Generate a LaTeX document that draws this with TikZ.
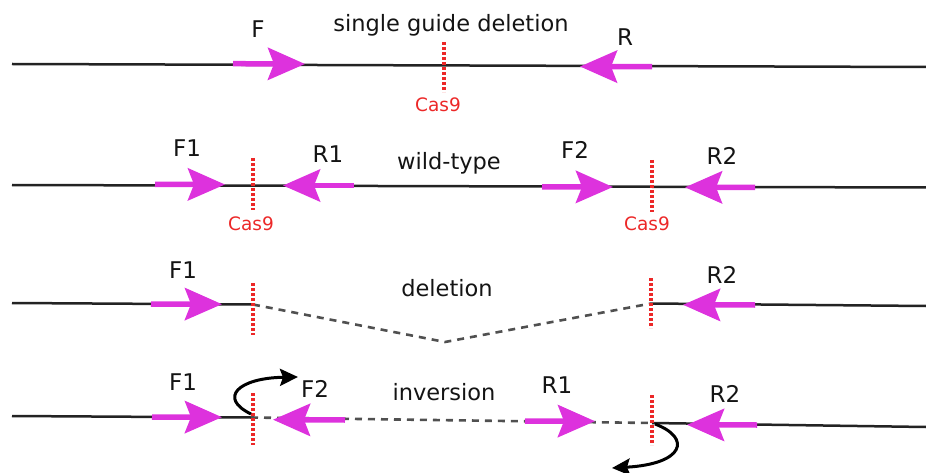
\documentclass[tikz,border=0pt]{standalone}
\usepackage{fontspec}
\setmainfont{DejaVu Sans}
\usetikzlibrary{arrows.meta}
\definecolor{primer}{RGB}{221,50,221}
\definecolor{cutred}{RGB}{236,40,40}
\definecolor{dna}{RGB}{35,35,35}
\definecolor{gapgray}{RGB}{80,80,80}
\tikzset{
  strand/.style={draw=dna, line width=2.5pt},
  gapline/.style={draw=gapgray, line width=2.6pt, dash pattern=on 7pt off 6pt},
  primerarrow/.style={draw=primer, line width=5.5pt,
    -{Stealth[length=37pt, width=32pt, inset=6pt, fill=primer]}},
  cutsite/.style={draw=cutred, line width=3.2pt, dash pattern=on 3pt off 2pt},
  flip/.style={draw=black, line width=3pt, -{Stealth[length=18pt, width=17pt, inset=3pt]}},
  lbl/.style={font=\fontsize{23}{26}\selectfont, text=black!92, anchor=base, inner sep=0pt},
  caption/.style={font=\fontsize{22.5}{26}\selectfont, text=black!92, anchor=base, inner sep=0pt},
  caslbl/.style={font=\fontsize{18.5}{21}\selectfont, text=cutred, anchor=base, inner sep=0pt}
}
\begin{document}
\begin{tikzpicture}[x=1pt,y=-1pt]
\useasboundingbox (0,0) rectangle (926,473);

% ---------- single guide deletion ----------
\coordinate (s1L) at (12,64);
\coordinate (s1R) at (926,67);
\draw[strand] (s1L) -- (s1R);
\coordinate (fS) at (233,63.7);  \coordinate (fT) at (305,64);
\coordinate (rS) at (652,66.7);  \coordinate (rT) at (580,66.5);
\draw[primerarrow] (fS) -- (fT);
\draw[primerarrow] (rS) -- (rT);
\coordinate (c0a) at (444,42); \coordinate (c0b) at (444,92);
\draw[cutsite] (c0a) -- (c0b);
\node[lbl] (lF) at (258,38) {F};
\node[lbl] (lR) at (625,46) {R};
\node[caption] (t1) at (451,32) {single guide deletion};
\node[caslbl] (cas0) at (438,112) {Cas9};

% ---------- wild-type ----------
\coordinate (s2L) at (12,185);
\coordinate (s2R) at (926,187.5);
\draw[strand] (s2L) -- (s2R);
\coordinate (f1S) at (155,184.3); \coordinate (f1T) at (225,184.5);
\coordinate (r1S) at (354,185.5); \coordinate (r1T) at (283,185.5);
\coordinate (f2S) at (542,186.8); \coordinate (f2T) at (613,187);
\coordinate (r2S) at (755,187.4); \coordinate (r2T) at (685,187.3);
\draw[primerarrow] (f1S) -- (f1T);
\draw[primerarrow] (r1S) -- (r1T);
\draw[primerarrow] (f2S) -- (f2T);
\draw[primerarrow] (r2S) -- (r2T);
\coordinate (c1a) at (253,158); \coordinate (c1b) at (253,210);
\coordinate (c2a) at (652,160); \coordinate (c2b) at (652,212);
\draw[cutsite] (c1a) -- (c1b);
\draw[cutsite] (c2a) -- (c2b);
\node[lbl] (wF1) at (187,157) {F1};
\node[lbl] (wR1) at (328,163) {R1};
\node[lbl] (wF2) at (575,159) {F2};
\node[lbl] (wR2) at (722,165) {R2};
\node[caption] (t2) at (449,170) {wild-type};
\node[caslbl] (cas1) at (251,230) {Cas9};
\node[caslbl] (cas2) at (647,230) {Cas9};

% ---------- deletion ----------
\coordinate (s3L) at (12,303);
\coordinate (j3a) at (253,304.5);
\coordinate (v3) at (445,342);
\coordinate (j3b) at (651,303.5);
\coordinate (s3R) at (926,306);
\draw[strand] (s3L) -- (j3a);
\draw[gapline] (j3a) -- (v3) -- (j3b);
\draw[strand] (j3b) -- (s3R);
\coordinate (d1S) at (151,304); \coordinate (d1T) at (222,304.2);
\coordinate (d2S) at (755,305); \coordinate (d2T) at (683,304.8);
\draw[primerarrow] (d1S) -- (d1T);
\draw[primerarrow] (d2S) -- (d2T);
\coordinate (c3a) at (253,283); \coordinate (c3b) at (253,335);
\coordinate (c4a) at (651,278); \coordinate (c4b) at (651,328);
\draw[cutsite] (c3a) -- (c3b);
\draw[cutsite] (c4a) -- (c4b);
\node[lbl] (dF1) at (183,278) {F1};
\node[lbl] (dR2) at (722,283) {R2};
\node[caption] (t3) at (447,296) {deletion};

% ---------- inversion ----------
\coordinate (s4L) at (12,416);
\coordinate (j4a) at (251,417.5);
\coordinate (j4b) at (652,423);
\coordinate (s4R) at (926,427);
\draw[strand] (s4L) -- (j4a);
\draw[gapline] (j4a) -- (j4b);
\draw[strand] (j4b) -- (s4R);
\coordinate (i1S) at (152,417); \coordinate (i1T) at (222,417.2);
\coordinate (i2S) at (345,420); \coordinate (i2T) at (273,419.7);
\coordinate (i3S) at (525,421); \coordinate (i3T) at (595,421.2);
\coordinate (i4S) at (757,425); \coordinate (i4T) at (687,424.8);
\draw[primerarrow] (i1S) -- (i1T);
\draw[primerarrow] (i2S) -- (i2T);
\draw[primerarrow] (i3S) -- (i3T);
\draw[primerarrow] (i4S) -- (i4T);
\coordinate (c5a) at (253,393); \coordinate (c5b) at (253,445);
\coordinate (c6a) at (652,395); \coordinate (c6b) at (652,445);
\draw[cutsite] (c5a) -- (c5b);
\draw[cutsite] (c6a) -- (c6b);
% flipped segment ends
\coordinate (u0) at (251,414);
\coordinate (u1) at (298,377);
\draw[flip] (u0) .. controls (218,398) and (238,378) .. (u1);
\coordinate (w0) at (655,424);
\coordinate (w1) at (612,468);
\draw[flip] (w0) .. controls (692,438) and (684,464) .. (w1);
\node[lbl] (iF1) at (183,390) {F1};
\node[lbl] (iF2) at (315,397) {F2};
\node[lbl] (iR1) at (557,393) {R1};
\node[lbl] (iR2) at (725,402) {R2};
\node[caption] (t4) at (444,400) {inversion};
\end{tikzpicture}
\end{document}
